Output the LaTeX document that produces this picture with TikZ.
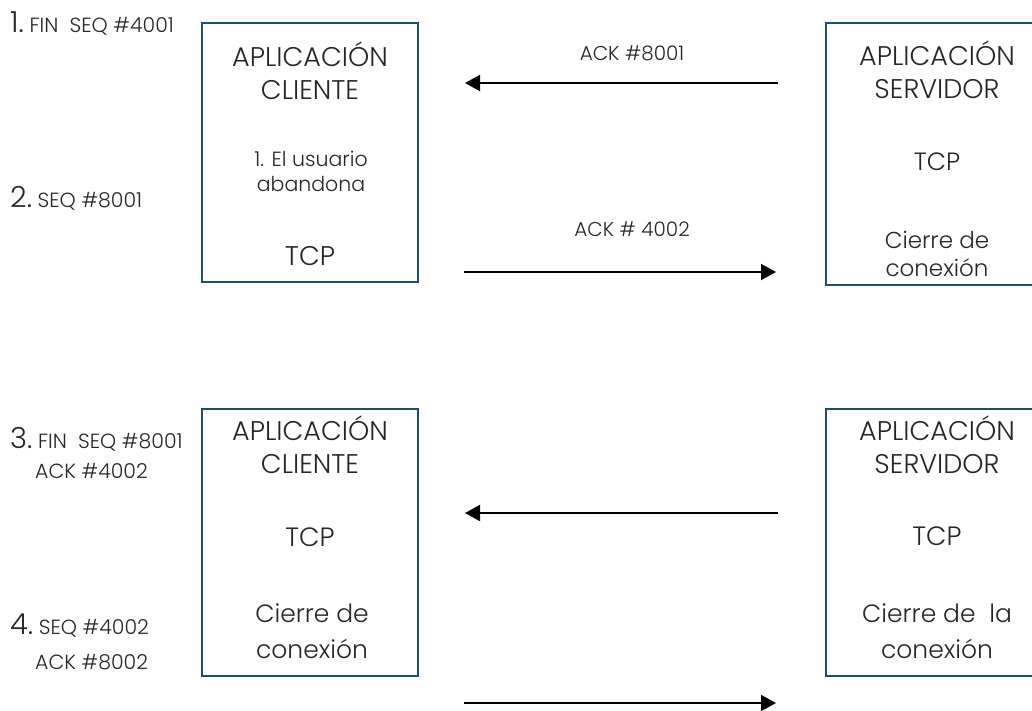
\documentclass[tikz,border=0pt]{standalone}
\usepackage{fontspec}
\setmainfont{Poppins Light}
\usetikzlibrary{arrows.meta}
\definecolor{boxblue}{HTML}{1F4E6E}
\definecolor{ink}{HTML}{262626}
\newcommand{\fs}[2]{\fontsize{#1}{#2}\selectfont}
\begin{document}
\begin{tikzpicture}[x=1pt,y=-1pt,
  box/.style={draw=boxblue, line width=2pt, minimum width=216pt, inner sep=0pt},
  txt/.style={inner sep=0pt, text=ink, align=center, anchor=base},
  lbl/.style={inner sep=0pt, text=ink, anchor=base west},
  arr/.style={line width=2pt, -{Triangle[length=15pt,width=16pt]}}]
\clip (0,0) rectangle (1032,710);
\fill[white] (0,0) rectangle (1032,710);
% boxes
\node[box, minimum height=259pt] (cl1) at (310,152.5) {};
\node[box, minimum height=262pt] (sv1) at (934,154) {};
\node[box, minimum height=267pt] (cl2) at (310,542.5) {};
\node[box, minimum height=267pt] (sv2) at (934,542.5) {};
% top client (anchor = baseline of last line)
\node[txt, font=\fs{27}{32.5}] (cl1a) at (310,99) {APLICACIÓN\\CLIENTE};
\node[txt, font=\fs{20.5}{25}] (cl1b) at (311,191) {1. El usuario\\abandona};
\node[txt, font=\fs{27}{34}] (cl1c) at (310,265) {TCP};
% top server
\node[txt, font=\fs{27}{33}] (sv1a) at (937,98) {APLICACIÓN\\SERVIDOR};
\node[txt, font=\fs{25}{28}] (sv1b) at (937,170) {TCP};
\node[txt, font=\fs{23}{28}] (sv1c) at (937,276) {Cierre de\\conexión};
% bottom client
\node[txt, font=\fs{27}{33}] (cl2a) at (310,473) {APLICACIÓN\\CLIENTE};
\node[txt, font=\fs{26.5}{34}] (cl2b) at (310,546) {TCP};
\node[txt, font=\fs{25}{36}] (cl2c) at (312,658) {Cierre de\\conexión};
% bottom server
\node[txt, font=\fs{27}{33}] (sv2a) at (937,473) {APLICACIÓN\\SERVIDOR};
\node[txt, font=\fs{26.5}{34}] (sv2b) at (937,545) {TCP};
\node[txt, font=\fs{25}{36}] (sv2c) at (937,658) {Cierre de\ \ la\\conexión};
% left step labels
\node[lbl] (s1) at (10,32) {{\fs{29}{29}1.}{\fs{20.5}{22}\ FIN\ \ SEQ \#4001}};
\node[lbl] (s2) at (10,207) {{\fs{29}{29}2.}{\fs{20.5}{22}\ SEQ \#8001}};
\node[lbl] (s3) at (10,448) {{\fs{29}{29}3.}{\fs{20.5}{22}\ FIN\ \ SEQ \#8001}};
\node[lbl, font=\fs{20.5}{22}] (s3b) at (35,478) {ACK \#4002};
\node[lbl] (s4) at (10,634) {{\fs{29}{29}4.}{\fs{20.5}{22}\ SEQ \#4002}};
\node[lbl, font=\fs{20.5}{22}] (s4b) at (35,669) {ACK \#8002};
% arrows
\coordinate (a1s) at (778,83);  \coordinate (a1e) at (465,83);
\coordinate (a2s) at (464,272); \coordinate (a2e) at (776,272);
\coordinate (a3s) at (778,513); \coordinate (a3e) at (465,513);
\coordinate (a4s) at (464,703); \coordinate (a4e) at (776,703);
\draw[arr] (a1s) -- (a1e);
\draw[arr] (a2s) -- (a2e);
\draw[arr] (a3s) -- (a3e);
\draw[arr] (a4s) -- (a4e);
\node[txt, font=\fs{20}{22}] (l1) at (632,60) {ACK \#8001};
\node[txt, font=\fs{20}{22}] (l2) at (632,236) {ACK \# 4002};
\end{tikzpicture}
\end{document}
